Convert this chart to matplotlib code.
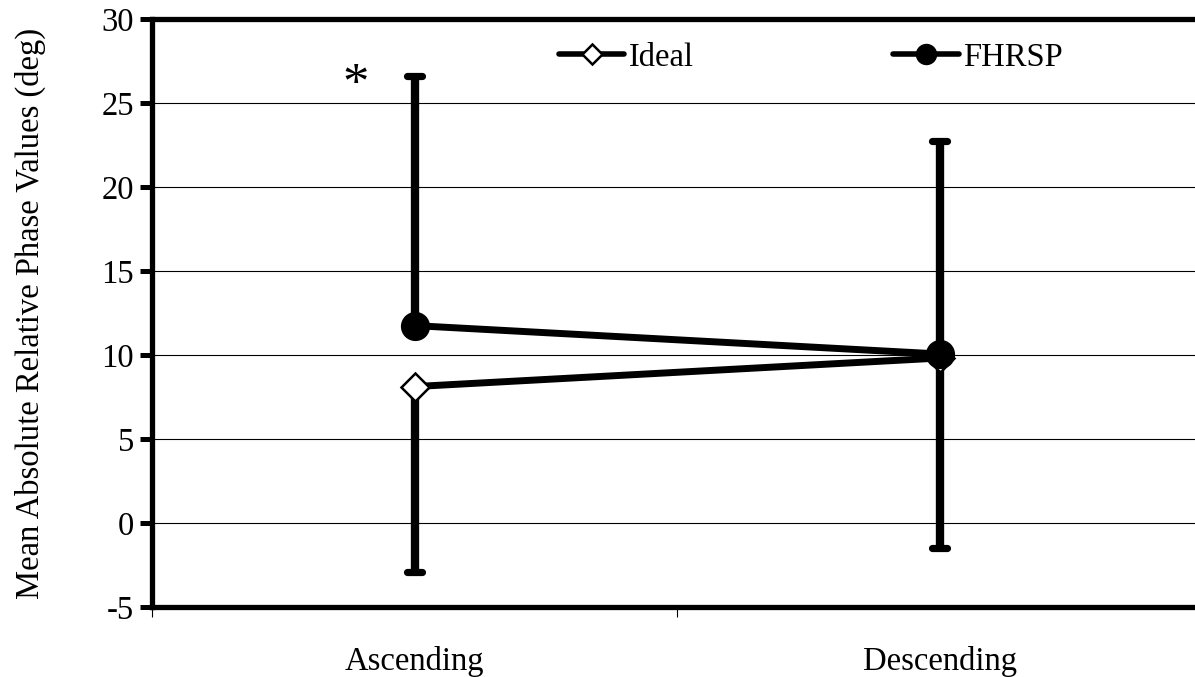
import matplotlib
matplotlib.use('Agg')
import matplotlib.pyplot as plt

# ---- data ----
categories = ['Ascending', 'Descending']
ideal = [8.12, 9.82]
fhrsp = [11.75, 10.06]
ideal_err_minus = [11.02, 11.29]   # lower error bar drawn on Ideal
fhrsp_err_plus = [14.88, 12.68]    # upper error bar drawn on FHRSP
yticks = [-5, 0, 5, 10, 15, 20, 25, 30]
ylabel = 'Mean Absolute Relative Phase Values (deg)'
series_names = ['Ideal', 'FHRSP']
star_label = '*'

plt.rcParams['font.family'] = ['Liberation Serif', 'DejaVu Serif']
plt.rcParams['axes.unicode_minus'] = False

FS = 23.5
W, H = 1195, 677
fig = plt.figure(figsize=(W / 100, H / 100), dpi=100)
ax = fig.add_axes([152 / W, 1 - 607 / H, (1202 - 152) / W, (607 - 19) / H])

xpos = [0.5 + i for i in range(len(categories))]

ax.set_xlim(0, len(categories))
ax.set_ylim(yticks[0], yticks[-1])

# grid
ax.set_yticks(yticks)
ax.yaxis.grid(True, color='black', linewidth=0.8)
ax.set_axisbelow(True)

# error bars (vertical part + rounded caps)
cap_half = 0.0135
lows = [v - e for v, e in zip(ideal, ideal_err_minus)]
highs = [v + e for v, e in zip(fhrsp, fhrsp_err_plus)]
ax.vlines(xpos, lows, ideal, color='black', linewidth=6, zorder=2)
ax.vlines(xpos, fhrsp, highs, color='black', linewidth=6, zorder=2)
caps = ax.hlines(lows + highs, [x - cap_half for x in xpos] * 2,
                 [x + cap_half for x in xpos] * 2, color='black',
                 linewidth=5.2, zorder=2)
caps.set_capstyle('round')

# lines
ax.plot(xpos, ideal, color='black', linewidth=5, marker='D', markersize=14,
        markerfacecolor='white', markeredgecolor='black', markeredgewidth=1.8,
        solid_capstyle='round', label=series_names[0], zorder=3)
ax.plot(xpos, fhrsp, color='black', linewidth=5, marker='o', markersize=20,
        markerfacecolor='black', markeredgecolor='black',
        solid_capstyle='round', label=series_names[1], zorder=4)

# asterisk
ax.text(0.387, 26.0, star_label, fontsize=38, ha='center', va='center')

# spines
for s in ['left', 'top', 'bottom']:
    ax.spines[s].set_linewidth(3.8)
    ax.spines[s].set_color('black')
ax.spines['right'].set_visible(False)

# ticks
ax.tick_params(axis='y', direction='out', length=9, width=3.6, labelsize=FS, pad=4)
ax.set_xticks(list(range(len(categories) + 1)))
ax.set_xticklabels([])
ax.tick_params(axis='x', which='major', direction='out', length=7, width=0.8)
ax.set_xticks(xpos, minor=True)
ax.set_xticklabels(categories, minor=True, fontsize=FS)
ax.tick_params(axis='x', which='minor', length=0, pad=28)

ax.set_ylabel(ylabel, fontsize=FS, labelpad=40)

leg = ax.legend(loc='upper left', bbox_to_anchor=(559 / W, 1 - 42 / H),
                bbox_transform=fig.transFigure, ncol=2, frameon=False,
                handlelength=2.0, handletextpad=0.15, columnspacing=6.1,
                markerscale=0.72, borderpad=0, borderaxespad=0, fontsize=FS)
for ln in leg.get_lines():
    ln.set_linewidth(4)

fig.savefig('out.png', dpi=100)
